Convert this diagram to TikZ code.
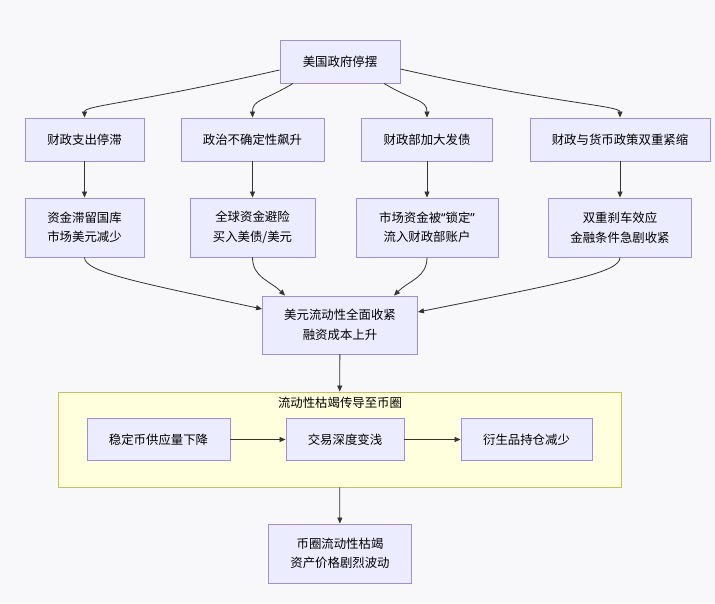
\documentclass[tikz,border=0pt]{standalone}
\usepackage{fontspec}
\newfontfamily\cjk{Noto Sans CJK SC}
\newfontfamily\latinq{Noto Sans}
\usetikzlibrary{arrows.meta}
\definecolor{nodefill}{HTML}{ECECFF}
\definecolor{nodeline}{HTML}{A08CE0}
\definecolor{edgeline}{HTML}{333333}
\definecolor{clusterfill}{HTML}{FFFFDE}
\definecolor{clusterline}{HTML}{C4C45E}
\definecolor{bgcol}{HTML}{F8F8FA}

\begin{document}
\begin{tikzpicture}[x=1pt, y=-1pt,
    flowbox/.style={draw=nodeline, fill=nodefill, line width=0.9pt, align=center, inner sep=0pt,
        font=\cjk\fontsize{12.4}{19.5}\selectfont},
    flowedge/.style={draw=edgeline, line width=0.8pt, -{Triangle[length=6pt, width=5pt]}}]
    \def\rowA{61.5}  % top row
    \def\rowB{139.5} % first level
    \def\rowC{227.5} % second level

    % canvas
    \fill[bgcol] (0,0) rectangle (715,603);
    \useasboundingbox (0,0) rectangle (715,603);

    % top node and first level
    \node[flowbox, minimum width=120pt, minimum height=43pt] (gov) at (340,\rowA) {美国政府停摆};
    \node[flowbox, minimum width=119pt, minimum height=43pt] (spend) at (84.5,\rowB) {财政支出停滞};
    \node[flowbox, minimum width=143pt, minimum height=43pt] (politic) at (252.5,\rowB) {政治不确定性飙升};
    \node[flowbox, minimum width=131pt, minimum height=43pt] (issue) at (427,\rowB) {财政部加大发债};
    \node[flowbox, minimum width=180pt, minimum height=43pt] (dual) at (620,\rowB) {财政与货币政策双重紧缩};

    % second level
    \node[flowbox, minimum width=119pt, minimum height=59pt] (idle) at (84.5,\rowC) {资金滞留国库\\市场美元减少};
    \node[flowbox, minimum width=125pt, minimum height=59pt] (haven) at (252.5,\rowC) {全球资金避险\\买入美债/美元};
    \node[flowbox, minimum width=142pt, minimum height=59pt] (lock) at (427,\rowC) {市场资金被{\latinq“}锁定{\latinq”}\\流入财政部账户};
    \node[flowbox, minimum width=143pt, minimum height=59pt] (brake) at (620,\rowC) {双重刹车效应\\金融条件急剧收紧};

    % merged effect
    \node[flowbox, minimum width=155pt, minimum height=58pt] (tight) at (340,325) {美元流动性全面收紧\\融资成本上升};

    % crypto cluster
    \node[draw=clusterline, fill=clusterfill, line width=0.9pt, inner sep=0pt,
        minimum width=563pt, minimum height=95pt] (cluster) at (339.5,439.5) {};
    \node[font=\cjk\fontsize{12.4}{15}\selectfont, inner sep=0pt] (title) at (340,403) {流动性枯竭传导至币圈};
    \node[flowbox, minimum width=143pt, minimum height=42pt] (stable) at (158.5,439.5) {稳定币供应量下降};
    \node[flowbox, minimum width=118pt, minimum height=42pt] (depth) at (345,439.5) {交易深度变浅};
    \node[flowbox, minimum width=131pt, minimum height=42pt] (deriv) at (526.5,439.5) {衍生品持仓减少};

    % final node
    \node[flowbox, minimum width=143pt, minimum height=59pt] (crypto) at (340,553.5) {币圈流动性枯竭\\资产价格剧烈波动};

    % edges from the top node
    \draw[flowedge] ([yshift=-8.5pt]gov.west) .. controls +(-150,34) and +(0,-12) .. (spend.north);
    \draw[flowedge] ([xshift=-47pt]gov.south) .. controls +(-30,18) and +(0,-18) .. (politic.north);
    \draw[flowedge] ([xshift=44pt]gov.south) .. controls +(30,18) and +(0,-18) .. (issue.north);
    \draw[flowedge] ([yshift=-7.5pt]gov.east) .. controls +(150,34) and +(0,-12) .. (dual.north);

    % straight edges down
    \draw[flowedge] (spend) -- (idle);
    \draw[flowedge] (politic) -- (haven);
    \draw[flowedge] (issue) -- (lock);
    \draw[flowedge] (dual) -- (brake);

    % edges into the merged effect
    \draw[flowedge] (idle.south) .. controls +(0,15) and +(-120,-26) .. ([yshift=16pt]tight.west);
    \draw[flowedge] (haven.south) .. controls +(0,20) and +(-15,-15) .. ([xshift=-55pt]tight.north);
    \draw[flowedge] (lock.south) .. controls +(0,20) and +(15,-15) .. ([xshift=54pt]tight.north);
    \draw[flowedge] (brake.south) .. controls +(0,15) and +(150,-30) .. ([yshift=13pt]tight.east);

    % into and out of the cluster
    \draw[flowedge] (tight) -- (cluster);
    \draw[flowedge] (stable) -- (depth);
    \draw[flowedge] (depth) -- (deriv);
    \draw[flowedge] (cluster) -- (crypto);
\end{tikzpicture}
\end{document}
